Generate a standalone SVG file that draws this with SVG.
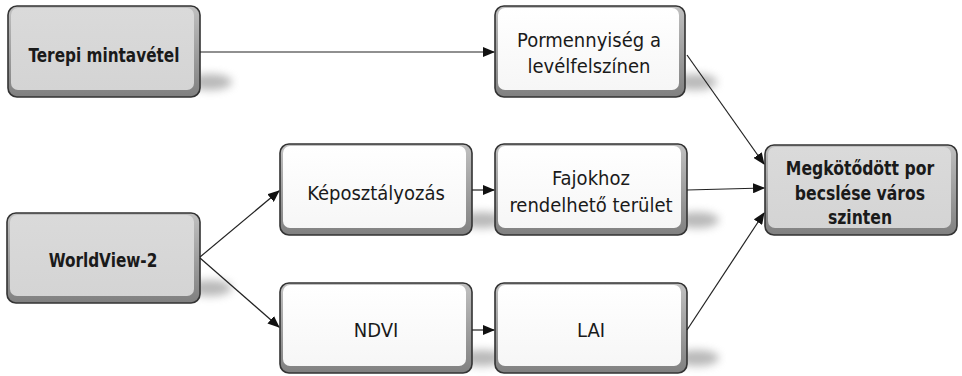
<svg xmlns="http://www.w3.org/2000/svg" width="962" height="376" viewBox="0 0 962 376">
<style>
.t{font-family:"DejaVu Sans Condensed","Liberation Sans Narrow","DejaVu Sans",sans-serif;font-size:20px;fill:#1a1a1a;text-anchor:middle}
.b{font-weight:bold}
.edge{stroke:#222;stroke-width:1.2;fill:none;marker-end:url(#ah)}
.outer{stroke:#333;stroke-width:1.6}
.sh{fill:#8a8a8a;opacity:0.6;filter:url(#blur)}
</style>
<defs>
<marker id="ah" markerWidth="12" markerHeight="10" refX="11" refY="5" orient="auto" markerUnits="userSpaceOnUse">
<path d="M0,0 L12,5 L0,10 z" fill="#111"/>
</marker>
<filter id="blur" x="-50%" y="-80%" width="200%" height="260%"><feGaussianBlur stdDeviation="4"/></filter>
<linearGradient id="bev" x1="0" y1="0" x2="0" y2="1"><stop offset="0" stop-color="#c0c0c0"/><stop offset="1" stop-color="#808080"/></linearGradient>
<linearGradient id="wf" x1="0" y1="0" x2="0" y2="1"><stop offset="0" stop-color="#ffffff"/><stop offset="1" stop-color="#f6f6f6"/></linearGradient>
<linearGradient id="gf" x1="0" y1="0" x2="0" y2="1"><stop offset="0" stop-color="#dadada"/><stop offset="1" stop-color="#d4d4d4"/></linearGradient>
</defs>
<g id="terepi">
<ellipse class="sh" cx="210" cy="82" rx="22" ry="8"/>
<rect class="outer" x="8" y="6" width="192" height="91" rx="9" fill="url(#bev)"/>
<rect x="11" y="8" width="183" height="82" rx="7" fill="url(#gf)"/>
<text class="t b" transform="translate(104,62) scale(0.85,1)">Terepi mintavétel</text>
</g>
<g id="pormennyiseg">
<ellipse class="sh" cx="695" cy="82" rx="22" ry="8"/>
<rect class="outer" x="495" y="6" width="190" height="91" rx="9" fill="url(#bev)"/>
<rect x="498" y="8" width="181" height="82" rx="7" fill="url(#wf)"/>
<text class="t" x="589" y="47">Pormennyiség a</text>
<text class="t" x="589" y="73">levélfelszínen</text>
</g>
<g id="megkotodott">
<rect class="outer" x="765" y="145" width="192" height="90" rx="9" fill="url(#bev)"/>
<rect x="768" y="147" width="183" height="81" rx="7" fill="url(#gf)"/>
<text class="t b" transform="translate(860,175) scale(0.87,1)">Megkötődött por</text>
<text class="t b" transform="translate(860,200) scale(0.87,1)">becslése város</text>
<text class="t b" transform="translate(860,224) scale(0.87,1)">szinten</text>
</g>
<g id="worldview">
<ellipse class="sh" cx="210" cy="288" rx="22" ry="8"/>
<rect class="outer" x="7" y="213" width="193" height="90" rx="9" fill="url(#bev)"/>
<rect x="10" y="215" width="184" height="81" rx="7" fill="url(#gf)"/>
<text class="t b" transform="translate(103,267) scale(0.85,1)">WorldView-2</text>
</g>
<g id="keposztalyozas">
<ellipse class="sh" cx="482" cy="220" rx="22" ry="8"/>
<rect class="outer" x="280" y="144" width="192" height="91" rx="9" fill="url(#bev)"/>
<rect x="283" y="146" width="183" height="82" rx="7" fill="url(#wf)"/>
<text class="t" x="376" y="200">Képosztályozás</text>
</g>
<g id="fajokhoz">
<ellipse class="sh" cx="697" cy="220" rx="22" ry="8"/>
<rect class="outer" x="495" y="144" width="192" height="91" rx="9" fill="url(#bev)"/>
<rect x="498" y="146" width="183" height="82" rx="7" fill="url(#wf)"/>
<text class="t" x="591" y="185">Fajokhoz</text>
<text class="t" x="591" y="212">rendelhető terület</text>
</g>
<g id="ndvi">
<ellipse class="sh" cx="482" cy="358" rx="22" ry="8"/>
<rect class="outer" x="280" y="283" width="192" height="90" rx="9" fill="url(#bev)"/>
<rect x="283" y="285" width="183" height="81" rx="7" fill="url(#wf)"/>
<text class="t" x="376" y="337">NDVI</text>
</g>
<g id="lai">
<ellipse class="sh" cx="697" cy="358" rx="22" ry="8"/>
<rect class="outer" x="495" y="283" width="192" height="90" rx="9" fill="url(#bev)"/>
<rect x="498" y="285" width="183" height="81" rx="7" fill="url(#wf)"/>
<text class="t" x="591" y="337">LAI</text>
</g>
<g id="connectors">
<line class="edge" x1="200" y1="52" x2="494" y2="52"/>
<line class="edge" x1="687" y1="55" x2="764" y2="164"/>
<line class="edge" x1="687" y1="190" x2="764" y2="188"/>
<line class="edge" x1="687" y1="330" x2="764" y2="213"/>
<line class="edge" x1="200" y1="257" x2="279" y2="191"/>
<line class="edge" x1="200" y1="258" x2="279" y2="327"/>
<line class="edge" x1="472" y1="190" x2="494" y2="190"/>
<line class="edge" x1="472" y1="330" x2="494" y2="330"/>
</g>
</svg>
